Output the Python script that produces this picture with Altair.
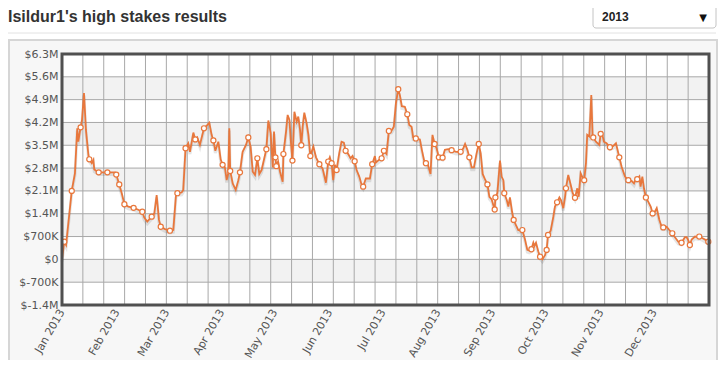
import altair as alt
import pandas as pd

# ---------------- data ----------------
days = [0, 1.3, 2.3, 5.5, 7.3, 8.6, 9.2, 10.5, 11.3, 12.4, 13.5, 14.9, 15.4, 16.8, 17.7, 18.2,
        20.7, 25.6, 29.9, 30.6, 32.3, 33.7, 35.2, 37.4, 40.4, 42.7, 45.3, 46.4, 48.1, 50.6,
        52.1, 53.4, 54.7, 55.7, 58.1, 60.9, 62.8, 64.3, 65.1, 67.5, 68.4, 69.7, 71.2,
        72.2, 74.1, 75.2, 76.3, 77.8, 80.1, 81.9, 83.1, 84.4, 85.4, 86.5, 88.2, 89.5, 90.6,
        91.9, 92.9, 93.8, 94.4, 94.9, 96.3, 98.0, 99.5, 100.4, 101.9, 103.8, 105.1, 106.4,
        107.6, 108.9, 110.2, 111.3, 112.6, 114.0, 115.3, 116.4, 117.7, 118.9, 119.6, 120.4,
        120.9, 121.9, 123.0, 124.5, 124.9, 126.4, 127.3, 128.3, 129.2, 130.0, 131.1, 132.4,
        133.3, 134.3, 135.0, 135.8, 136.7, 138.0, 139.0, 140.1, 141.8, 143.3, 145.2,
        147.0, 148.9, 150.2, 151.1, 152.1, 153.0, 154.0, 154.9, 156.4, 157.7, 159.0, 160.0,
        161.5, 162.8, 163.9, 165.1, 166.2, 167.7, 168.8, 169.9, 171.4, 173.7, 175.0, 176.5,
        177.1, 178.8, 180.3, 181.6, 183.1, 184.4, 185.9, 187.2, 188.4, 189.7, 190.6, 191.7,
        193.4, 194.8, 195.9, 197.2, 198.1, 199.6, 201.9, 203.0, 204.2, 205.3, 206.4, 207.9,
        209.0, 210.2, 211.3, 212.6, 213.7, 214.7, 216.0, 217.9, 219.8,
        222.3, 224.9, 226.4, 227.4, 228.7, 229.8, 231.1, 232.4, 233.9, 235.1, 236.2, 237.3,
        238.6, 240.0, 241.1, 242.4, 243.3, 244.1, 244.5, 245.6, 247.1, 248.0, 249.0, 249.5,
        250.9, 251.8, 252.7, 253.9, 254.8, 256.1, 257.4, 258.4, 259.7, 261.2, 262.5, 263.6,
        264.8, 265.9, 266.5, 267.4, 268.7, 269.7, 271.0, 272.5, 273.4, 274.2, 275.7, 277.2,
        278.1, 279.3, 280.6, 281.5, 282.8, 283.8, 284.3, 285.6, 287.0, 288.1, 289.4, 290.7,
        291.5, 292.6,
        293.7, 294.6, 295.6, 296.3, 297.5, 298.6, 299.3, 299.7, 301.2, 303.1, 303.9, 304.6,
        305.7, 307.2, 309.1, 311.0, 312.5, 314.4, 315.7, 317.6, 319.5, 321.3, 322.7, 323.8,
        324.5, 325.7, 326.4, 327.4, 328.3, 329.4, 330.7, 332.1, 333.2, 334.5, 335.5, 337.0,
        338.3, 339.2, 341.1, 342.6, 344.3, 345.8, 347.7, 349.5, 351.4, 352.4, 353.3, 354.2,
        355.2, 357.1, 359.0, 359.5, 361.4, 363.3, 364.6]

values_m = [0.00, 0.54, 0.44, 2.10, 2.64, 4.02, 3.61, 4.05, 4.28, 5.10, 3.97, 3.20, 3.07, 2.95, 3.05, 2.76,
            2.67, 2.67, 2.67, 2.60, 2.30, 2.03, 1.69, 1.62, 1.58, 1.53, 1.46, 1.28, 1.16, 1.31,
            1.41, 1.97, 1.21, 1.00, 0.93, 0.88, 0.90, 1.97, 2.03, 2.05, 2.13, 3.41, 3.56,
            3.30, 3.89, 3.68, 3.74, 3.51, 4.02, 4.12, 4.19, 3.82, 3.65, 3.33, 3.61, 3.07, 2.90,
            2.82, 2.43, 2.64, 4.02, 2.71, 2.33, 2.13, 2.43, 2.67, 3.30, 3.51, 3.74, 3.46,
            2.69, 2.59, 3.10, 2.62, 2.74, 3.07, 3.38, 4.26, 3.87, 2.82, 3.92, 3.13,
            2.86, 3.00, 2.69, 2.38, 3.23, 3.92, 4.43, 4.28, 3.56, 3.03, 4.53, 4.22,
            4.38, 3.97, 3.50, 4.08, 4.50, 4.17, 3.82, 3.17, 3.46, 3.13, 2.92,
            2.79, 2.35, 3.00, 3.13, 2.95, 2.43, 2.90, 2.74, 3.25, 3.61, 3.58, 3.33,
            3.23, 3.10, 3.17, 3.01, 2.74, 2.54, 2.33, 2.23, 2.48, 2.48, 2.92, 3.17,
            2.97, 3.05, 3.10, 3.33, 3.23, 3.94, 3.95, 4.07, 4.79, 5.22, 5.04, 4.70,
            4.68, 4.45, 4.12, 4.07, 3.74, 3.71, 3.68, 3.36, 3.05, 2.95, 2.90, 2.62,
            3.82, 3.54, 3.41, 3.13, 3.15, 3.12, 3.36, 3.38, 3.35,
            3.30, 3.30, 3.41, 3.54, 3.36, 3.13, 2.82, 2.82, 3.25, 3.54, 3.25, 2.62,
            2.46, 2.30, 1.92, 1.84, 1.67, 1.53, 1.90, 2.03, 3.03, 2.54, 2.43, 2.03,
            1.82, 1.62, 1.90, 1.46, 1.21, 1.05, 0.90, 0.90, 0.90, 0.61, 0.29, 0.27,
            0.31, 0.51, 0.41, 0.51, 0.24, 0.08, 0.00, 0.13, 0.29, 0.75, 0.88, 1.31,
            1.62, 1.75, 1.90, 1.82, 1.57, 1.92, 2.18, 2.59, 2.28, 2.03, 1.89, 2.18,
            1.92, 2.64,
            2.51, 2.43, 2.95, 3.82, 3.77, 5.04, 3.82, 3.74, 3.61, 3.51, 3.85, 3.89,
            3.61, 3.56, 3.44, 3.48, 3.56, 3.13, 2.84, 2.54, 2.43, 2.41, 2.33, 2.48,
            2.46, 2.54, 2.23, 2.54, 2.18, 1.90, 1.77, 1.62, 1.41, 1.46, 1.57, 1.21,
            1.00, 0.98, 1.00, 0.90, 0.80, 0.68, 0.54, 0.51, 0.68, 0.68, 0.59, 0.44,
            0.61, 0.70, 0.68, 0.70, 0.65, 0.59, 0.54]

markers = [0, 1, 0, 1, 0, 0, 0, 1, 0, 0, 0, 0, 1, 0, 0, 0,
           1, 1, 0, 1, 1, 0, 1, 0, 1, 0, 1, 0, 0, 1,
           0, 0, 0, 1, 0, 1, 0, 0, 1, 0, 0, 1, 0,
           0, 0, 1, 0, 0, 1, 0, 0, 0, 1, 0, 0, 0, 1,
           0, 0, 0, 0, 1, 0, 0, 0, 1, 0, 0, 1, 0,
           0, 0, 1, 0, 0, 0, 1, 0, 0, 0, 0, 1,
           1, 0, 0, 0, 1, 0, 0, 0, 0, 1, 0, 0,
           0, 0, 1, 0, 0, 0, 0, 1, 0, 0, 1,
           0, 0, 1, 0, 1, 0, 0, 1, 0, 0, 0, 1,
           0, 0, 0, 1, 0, 0, 0, 1, 0, 0, 1, 0,
           0, 0, 1, 1, 0, 1, 0, 0, 0, 1, 0, 0,
           0, 1, 0, 0, 0, 1, 0, 0, 0, 1, 0, 0,
           0, 1, 0, 1, 0, 1, 0, 0, 1,
           0, 1, 0, 0, 0, 1, 0, 0, 0, 1, 0, 0,
           0, 1, 0, 0, 0, 1, 1, 0, 0, 0, 0, 1,
           0, 0, 0, 0, 1, 0, 0, 0, 1, 0, 0, 0,
           1, 0, 0, 0, 0, 1, 0, 0, 1, 1, 0, 0,
           0, 1, 0, 0, 0, 0, 1, 0, 0, 0, 1, 0,
           0, 0,
           0, 1, 0, 0, 0, 0, 0, 1, 0, 0, 1, 0,
           0, 0, 1, 0, 0, 1, 0, 0, 1, 0, 0, 0,
           1, 0, 0, 0, 0, 1, 0, 0, 1, 0, 0, 0,
           0, 1, 0, 0, 1, 0, 0, 1, 0, 0, 0, 1,
           0, 0, 0, 1, 0, 0, 1]

y_ticks_x10 = [-14, -7, 0, 7, 14, 21, 28, 35, 42, 49, 56, 63]
y_tick_labels = ["$-1.4M", "$-700K", "$0", "$700K", "$1.4M", "$2.1M", "$2.8M",
                 "$3.5M", "$4.2M", "$4.9M", "$5.6M", "$6.3M"]
band_lo = [4.9, 3.5, 2.1, 0.7, -0.7]
band_hi = [5.6, 4.2, 2.8, 1.4, 0.0]
n_vgrid = 31
title_text = "Isildur1's high stakes results"
year_label = "2013"

# ---------------- build tables ----------------
start = pd.Timestamp("2013-01-01")
end = pd.Timestamp("2014-01-01")
df = pd.DataFrame({
    "t": [start + pd.to_timedelta(d, unit="D") for d in days],
    "v": values_m,
    "m": markers,
})
df_pts = df[df["m"] == 1]
y_ticks = [k / 10 for k in y_ticks_x10]
df_h = pd.DataFrame({"y": y_ticks})
df_bands = pd.DataFrame({"lo": band_lo, "hi": band_hi})
df_v = pd.DataFrame({"t": [start + (end - start) * i / n_vgrid for i in range(1, n_vgrid)]})

W, H = 647, 251
ORANGE = "#E8773C"
GRID = "#a8a8a8"
AXIS_FONT = "DejaVu Sans"

xscale = alt.Scale(domain=[alt.DateTime(year=2013, month=1, date=1),
                           alt.DateTime(year=2014, month=1, date=1)])
yscale = alt.Scale(domain=[-1.4, 6.3], nice=False, zero=False)

label_expr = ("[" + ",".join("'%s'" % s for s in y_tick_labels) + "][indexof(["
              + ",".join(str(k) for k in y_ticks_x10) + "], round(datum.value*10))]")

x_axis = alt.Axis(values=[alt.DateTime(year=2013, month=m, date=1) for m in range(1, 13)],
                  format="%b %Y", labelAngle=-60, labelFont=AXIS_FONT,
                  labelFontSize=11, labelColor="#555555", ticks=False,
                  domain=False, grid=False, labelPadding=5, zindex=1, title=None)
y_axis = alt.Axis(values=y_ticks, labelExpr=label_expr, labelFont=AXIS_FONT,
                  labelFontSize=11, labelColor="#555555", ticks=False,
                  domain=False, grid=False, labelPadding=4, zindex=1, title=None)


def X(field):
    return alt.X(field, type="temporal", scale=xscale, axis=x_axis, title=None)


def Y(field):
    return alt.Y(field, type="quantitative", scale=yscale, axis=y_axis, title=None)


one = alt.Data(values=[{}])

panel = alt.Chart(one).mark_rect(fill="#f7f7f7", stroke="#d6d6d6", strokeWidth=2).encode(
    x=alt.value(-53), x2=alt.value(655), y=alt.value(-14), y2=alt.value(318))
sep = alt.Chart(one).mark_rule(color="#e2e2e2", strokeWidth=1).encode(
    x=alt.value(-54), x2=alt.value(654), y=alt.value(-21))
plotbg = alt.Chart(one).mark_rect(fill="white").encode(
    x=alt.value(0), x2=alt.value(W), y=alt.value(0), y2=alt.value(H))

bands = alt.Chart(df_bands).mark_rect(fill="#f2f2f2").encode(
    x=alt.value(0), x2=alt.value(W), y=Y("hi"), y2="lo:Q")

hgrid = alt.Chart(df_h).mark_rule(color=GRID, strokeWidth=1).encode(
    y=Y("y"), x=alt.value(0), x2=alt.value(W))

vgrid = alt.Chart(df_v).mark_rule(color=GRID, strokeWidth=1).encode(
    x=X("t"), y=alt.value(0), y2=alt.value(H))

shadow = alt.Chart(df).transform_calculate(vs="datum.v - 0.07").mark_line(
    color="#000000", opacity=0.10, strokeWidth=3).encode(x=X("t"), y=Y("vs"))

line = alt.Chart(df).mark_line(color=ORANGE, strokeWidth=1.8).encode(x=X("t"), y=Y("v"))

pts = alt.Chart(df_pts).mark_point(filled=True, fill="white", stroke=ORANGE,
                                   strokeWidth=1.2, size=26, opacity=1).encode(
    x=X("t"), y=Y("v"))

border = alt.Chart(one).mark_rect(fill=None, stroke="#505050", strokeWidth=3).encode(
    x=alt.value(0), x2=alt.value(W), y=alt.value(0), y2=alt.value(H))

title = alt.Chart(one).mark_text(text=title_text, font="Liberation Sans", fontSize=16,
                                 fontWeight="bold", color="#333333", align="left",
                                 baseline="alphabetic").encode(
    x=alt.value(-54), y=alt.value(-32))

dd_box = alt.Chart(one).mark_rect(fill="white", stroke="#c4c4c4", strokeWidth=1,
                                  cornerRadius=3).encode(
    x=alt.value(531), x2=alt.value(654), y=alt.value(-50), y2=alt.value(-26))
dd_text = alt.Chart(one).mark_text(text=year_label, font="Liberation Sans", fontSize=12,
                                   fontWeight="bold", color="#222222", align="left",
                                   baseline="alphabetic").encode(
    x=alt.value(540), y=alt.value(-33))
dd_arrow = alt.Chart(one).mark_text(text="▼", font="DejaVu Sans", fontSize=10,
                                    color="#111111", align="center",
                                    baseline="alphabetic").encode(
    x=alt.value(641), y=alt.value(-33))

chart = alt.layer(
    panel, sep, plotbg, bands, vgrid, hgrid, shadow, line, pts, border,
    title, dd_box, dd_text, dd_arrow
).properties(
    width=W, height=H,
    autosize=alt.AutoSizeParams(type="none"),
    padding={"left": 54, "top": 46, "right": 9, "bottom": 55},
    background="white",
).configure_view(strokeWidth=0)

chart.save("out.html", embed_options={"renderer": "svg", "actions": False})
